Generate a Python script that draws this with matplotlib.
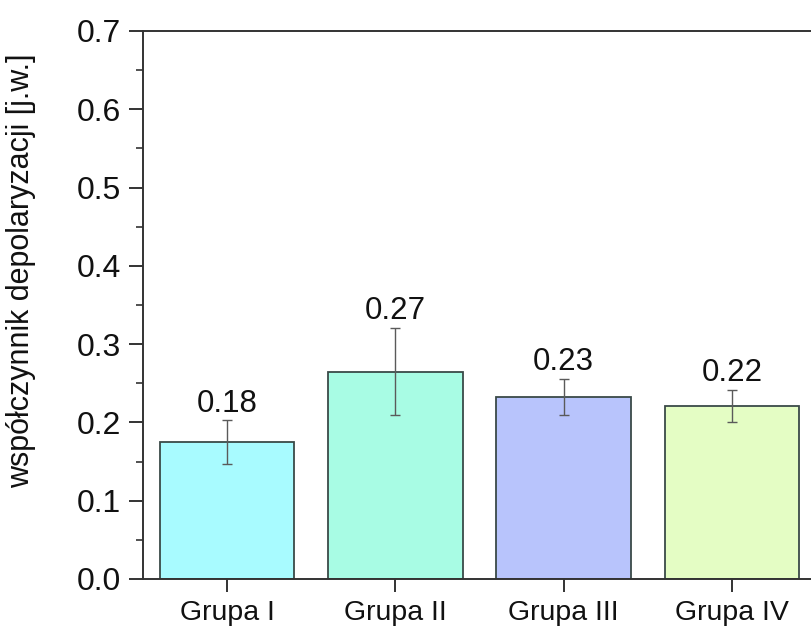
import matplotlib
matplotlib.use("Agg")
import matplotlib.pyplot as plt
import numpy as np
from matplotlib.ticker import MultipleLocator

plt.rcParams['font.family'] = ['Liberation Sans', 'DejaVu Sans']

categories = ["Grupa I", "Grupa II", "Grupa III", "Grupa IV"]
values = [0.175, 0.265, 0.233, 0.221]
errors = [0.028, 0.056, 0.023, 0.021]
labels = ["0.18", "0.27", "0.23", "0.22"]
colors = ["#A8FBFF", "#A8FCE4", "#B8C4FC", "#E4FDC4"]
yticks = [0.0, 0.1, 0.2, 0.3, 0.4, 0.5, 0.6, 0.7]

W, H = 811, 626
fig = plt.figure(figsize=(W/100, H/100), dpi=100)
left, right, top, bottom = 143, 816, 31, 579
ax = fig.add_axes([left/W, 1 - bottom/H, (right-left)/W, (bottom-top)/H])

x = np.arange(1, len(categories) + 1)
ax.bar(x, values, width=0.8, color=colors, edgecolor="#3a4a48", linewidth=1.3, zorder=2)
ax.errorbar(x, values, yerr=errors, fmt="none", ecolor="#5a5a5a", elinewidth=1.0,
            capsize=3.5, capthick=1.0, zorder=3)
for xi, v, e, lab in zip(x, values, errors, labels):
    ax.annotate(lab, xy=(xi, v + e), xytext=(0, 6), textcoords="offset points",
                ha="center", va="baseline", fontsize=22.5, color="#111111")

ax.set_xlim(0.5, 4.5)
ax.set_ylim(0, 0.7)
ax.set_xticks(x)
ax.set_xticklabels(categories, fontsize=20.5)
ax.set_yticks(yticks)
ax.set_yticklabels([f"{v:.1f}" for v in yticks], fontsize=23)
ax.yaxis.set_minor_locator(MultipleLocator(0.05))
ax.tick_params(axis="y", which="major", direction="out", length=10, width=1.2, pad=6, colors="#111111")
ax.tick_params(axis="y", which="minor", direction="out", length=5, width=1.2, color="#333333")
ax.tick_params(axis="x", which="major", direction="out", length=9, width=1.2, pad=6, colors="#111111")
for s in ax.spines.values():
    s.set_linewidth(1.4)
    s.set_color("#333333")

ax.set_ylabel("współczynnik depolaryzacji [j.w.]", fontsize=22, color="#111111")
ax.yaxis.set_label_coords(-(143-36)/(right-left), (579-271)/(bottom-top))

fig.savefig("out.png", dpi=100)
